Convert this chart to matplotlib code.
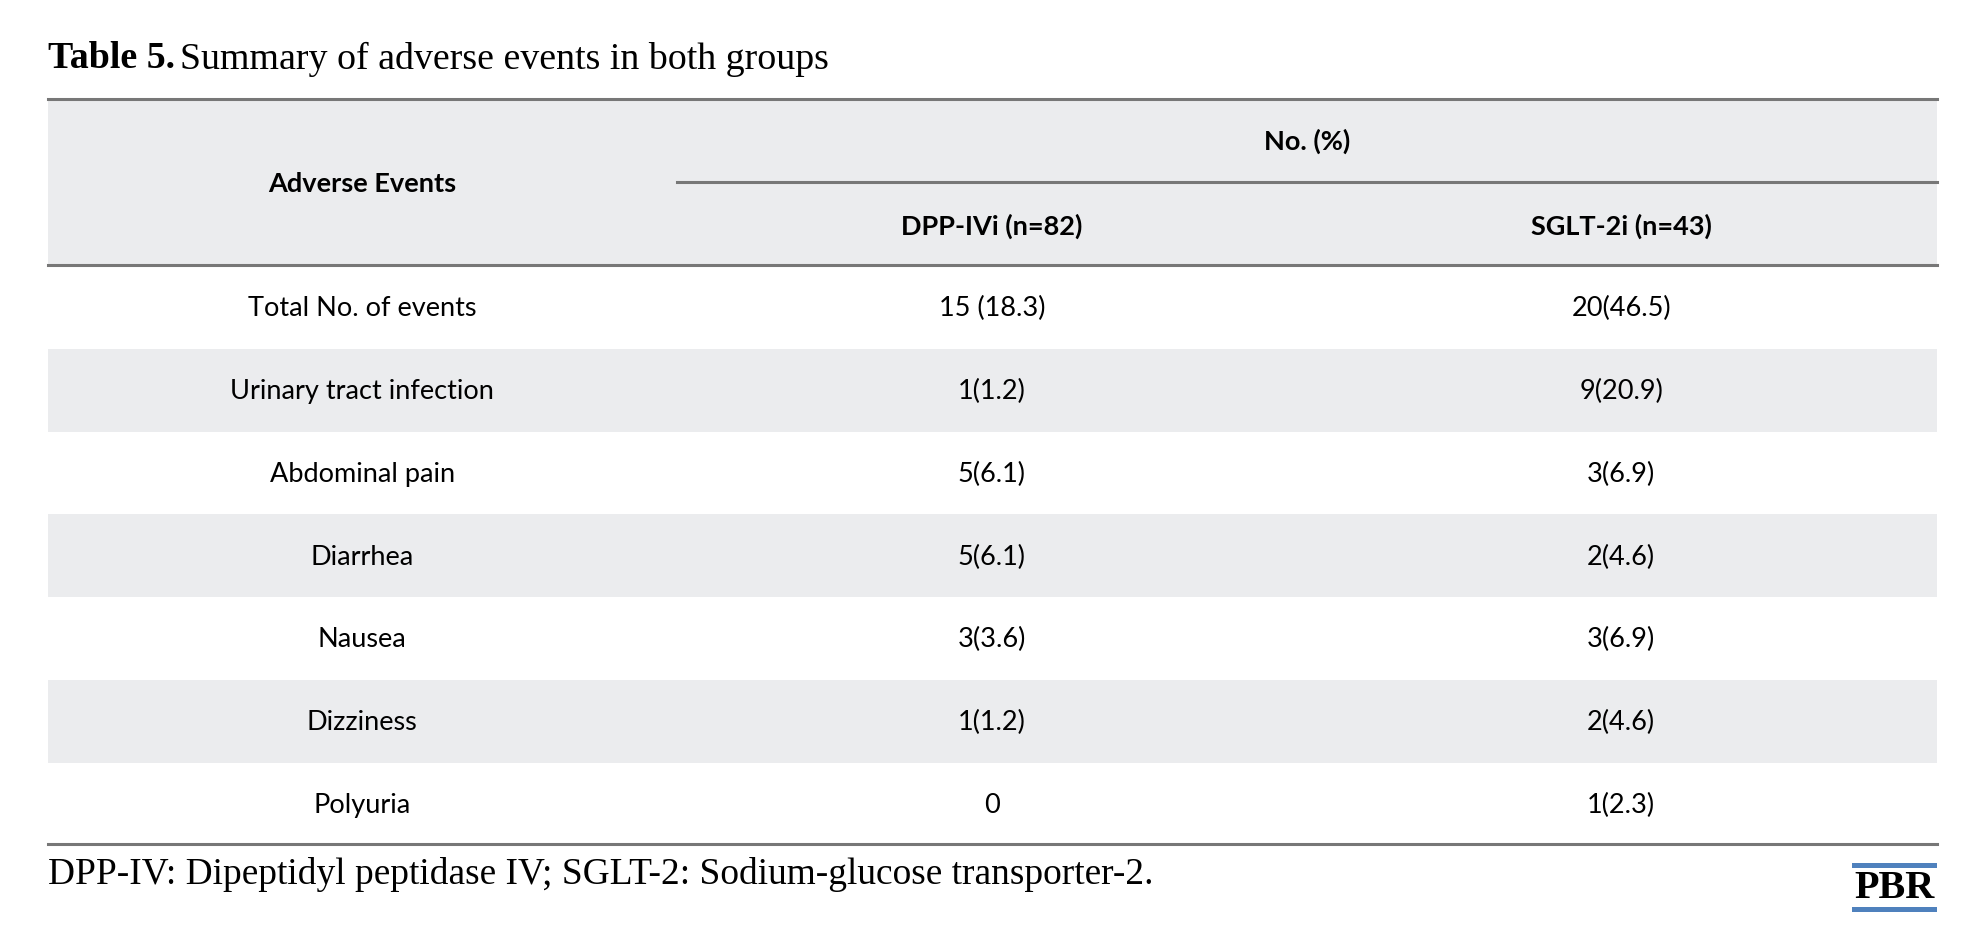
import matplotlib
import matplotlib.pyplot as plt
from matplotlib.patches import Rectangle

matplotlib.use("Agg")

events = ["Total No. of events", "Urinary tract infection", "Abdominal pain",
          "Diarrhea", "Nausea", "Dizziness", "Polyuria"]
dpp_vals = ["15 (18.3)", "1(1.2)", "5(6.1)", "5(6.1)", "3(3.6)", "1(1.2)", "0"]
sglt_vals = ["20(46.5)", "9(20.9)", "3(6.9)", "2(4.6)", "3(6.9)", "2(4.6)", "1(2.3)"]
col_headers = ["DPP-IVi (n=82)", "SGLT-2i (n=43)"]

W, H = 1568, 746  # layout units (scaled to 1966x936 output)
LEFT, RIGHT = 38, 1545
COL_X = [289, 791, 1293]
SPLIT = 540
SHADE = "#ebecee"
RULE = "#777777"
SANS = ["Lato", "DejaVu Sans"]
SERIF = ["Liberation Serif", "DejaVu Serif"]
BODY_FS = 19.5

fig = plt.figure(figsize=(19.66, 9.36), dpi=100)
ax = fig.add_axes([0, 0, 1, 1])
ax.set_xlim(0, W)
ax.set_ylim(H, 0)
ax.axis("off")

# title
t = ax.text(LEFT, 47, "Table 5.", fontsize=27.3, fontweight="bold", family=SERIF,
            va="center", ha="left")
fig.canvas.draw()
bb = t.get_window_extent().transformed(ax.transData.inverted())
ax.text(bb.x1 + 4, 47, "Summary of adverse events in both groups", fontsize=27.3,
        family=SERIF, va="center", ha="left")

# header block
ax.add_patch(Rectangle((LEFT, 79), RIGHT - LEFT, 211 - 79, color=SHADE, lw=0))
ax.text(COL_X[0], 147, "Adverse Events", fontsize=BODY_FS, fontweight="bold", family=SANS,
        ha="center", va="center")
ax.text((SPLIT + RIGHT) / 2, 113, "No. (%)", fontsize=BODY_FS, fontweight="bold", family=SANS,
        ha="center", va="center")
for x, label in zip(COL_X[1:], col_headers):
    ax.text(x, 180, label, fontsize=BODY_FS, fontweight="bold", family=SANS,
            ha="center", va="center")

# body rows
row_h = 66
top = 212
for i, (ev, a, b) in enumerate(zip(events, dpp_vals, sglt_vals)):
    y0 = top + i * row_h
    if i % 2 == 1:
        ax.add_patch(Rectangle((LEFT, y0), RIGHT - LEFT, row_h, color=SHADE, lw=0))
    yc = y0 + row_h / 2 + 1
    for x, s in zip(COL_X, [ev, a, b]):
        ax.text(x, yc, s, fontsize=BODY_FS, family=SANS, ha="center", va="center")

# rules
ax.plot([LEFT, RIGHT], [79, 79], color=RULE, lw=2.2)
ax.plot([SPLIT, RIGHT], [145, 145], color=RULE, lw=2.2)
ax.plot([LEFT, RIGHT], [211, 211], color=RULE, lw=2.2)
ax.plot([LEFT, RIGHT], [673, 673], color=RULE, lw=2.2)

# footnote
ax.text(LEFT, 697, "DPP-IV: Dipeptidyl peptidase IV; SGLT-2: Sodium-glucose transporter-2.",
        fontsize=26.9, family=SERIF, ha="left", va="center")

# PBR logo
ax.add_patch(Rectangle((1477, 688), RIGHT - 1477, 4, color="#4f81bd", lw=0))
ax.add_patch(Rectangle((1477, 723), RIGHT - 1477, 4, color="#4f81bd", lw=0))
ax.text((1477 + RIGHT) / 2, 708.5, "PBR", fontsize=29, fontweight="bold", family=SERIF,
        ha="center", va="center")

fig.savefig("out.png", dpi=100, facecolor="white")
